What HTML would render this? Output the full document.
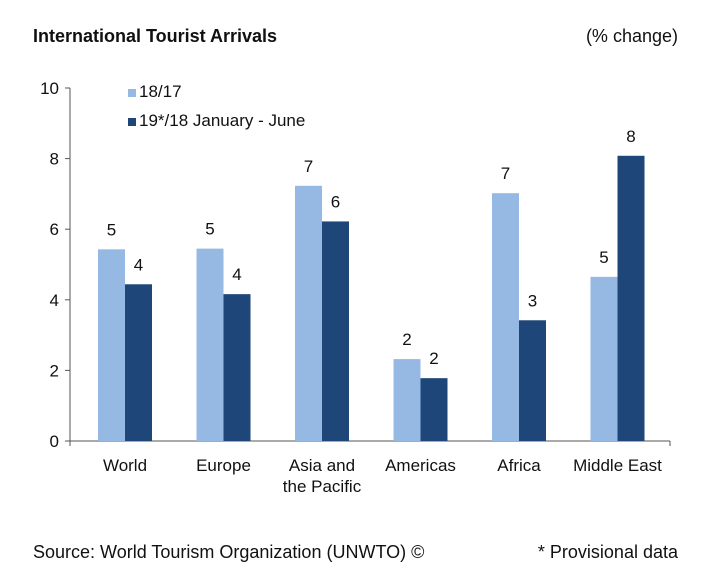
<!DOCTYPE html>
<html><head><meta charset="utf-8"><style>
body{margin:0;background:#fff;width:707px;height:582px;overflow:hidden;font-family:"Liberation Sans",sans-serif;}
svg text{font-family:"Liberation Sans",sans-serif;fill:#111;}
</style></head><body>
<svg id="c" width="707" height="582">
<text x="33" y="42" font-size="18" font-weight="bold">International Tourist Arrivals</text>
<text x="678" y="42" font-size="18" text-anchor="end">(% change)</text>
<text x="33" y="558" font-size="18">Source: World Tourism Organization (UNWTO) ©</text>
<text x="678" y="558" font-size="18" text-anchor="end">* Provisional data</text>
<g id="plot"></g>
</svg>
<script>
const categories=[["World"],["Europe"],["Asia and","the Pacific"],["Americas"],["Africa"],["Middle East"]];
const series1=[5.43,5.45,7.23,2.32,7.02,4.65];
const series2=[4.44,4.16,6.22,1.78,3.42,8.08];
const labels1=["5","5","7","2","7","5"];
const labels2=["4","4","6","2","3","8"];
const yTicks=[0,2,4,6,8,10];
const seriesNames=["18/17","19*/18 January - June"];
const colors=["#95b9e3","#1f4678"];
const x0=75.75,step=98.5,y0=441,yTop=88,ymax=10,bw=27,xEnd=670;
const ns="http://www.w3.org/2000/svg";
const g=document.getElementById('plot');
function yS(v){return y0-(v/ymax)*(y0-yTop);}
function mk(t,a,p){const e=document.createElementNS(ns,t);for(const k in a)e.setAttribute(k,a[k]);(p||g).appendChild(e);return e;}
let ax=mk('line',{x1:70,x2:70,y1:yTop,y2:y0,stroke:'#555','stroke-width':1});


let bx=mk('line',{x1:70,x2:xEnd,y1:y0,y2:y0,stroke:'#555','stroke-width':1});


[70,xEnd].forEach(xx=>{
 const tk=mk('line',{x1:xx,x2:xx,y1:y0,y2:y0+5,stroke:'#555'});
 
 
});
yTicks.forEach(v=>{
 let l=mk('line',{x1:65,x2:70,y1:yS(v),y2:yS(v),stroke:'#555'});
 
 
 let t=mk('text',{x:59,y:yS(v)+6,'font-size':17,'text-anchor':'end'});t.textContent=v;
 
 
});
categories.forEach((c,i)=>{
 const cx=x0+step*(i+0.5);
 [[series1,labels1,-bw],[series2,labels2,0]].forEach(([s,lb,off],k)=>{
  const r=mk('rect',{x:cx+off,y:yS(s[i]),width:bw,height:y0-yS(s[i]),fill:colors[k]});
  
  
  const t=mk('text',{x:cx+off+bw/2,y:yS(s[i])-14,'font-size':17,'text-anchor':'middle'});t.textContent=lb[i];
  
  
 });
 c.forEach((ln,j)=>{const t=mk('text',{x:cx,y:471+j*21,'font-size':17,'text-anchor':'middle'});t.textContent=ln;
  
  });
});
seriesNames.forEach((n,k)=>{
 const yy=[97,126][k];
 const r=mk('rect',{x:128,y:yy-8,width:8,height:8,fill:colors[k]});
 
 
 const t=mk('text',{x:139,y:yy,'font-size':17});t.textContent=n;
 
 
});
</script>
</body></html>
